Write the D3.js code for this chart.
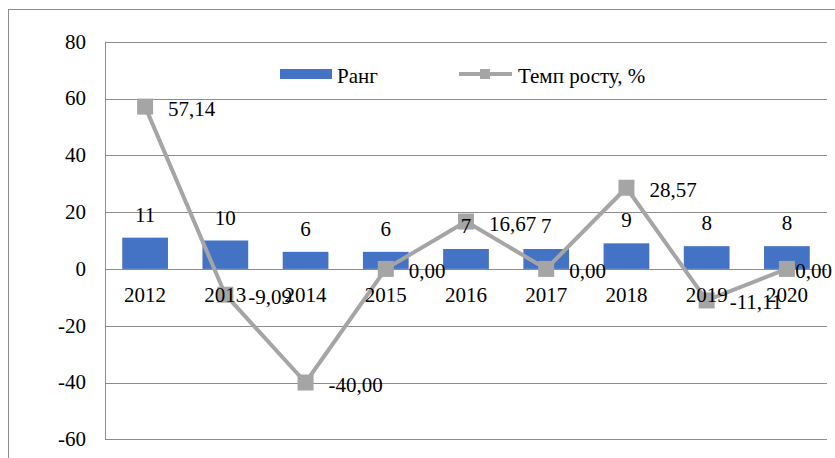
<!DOCTYPE html>
<html lang="uk">
<head>
  <meta charset="utf-8">
  <title>Ранг і темп росту</title>
  <script src="https://d3js.org/d3.v7.min.js"></script>
  <style>
    body { margin: 0; background: #fff; }
    svg text { font-family: "Liberation Serif", "Times New Roman", "DejaVu Serif", serif; font-size: 21px; fill: #000; }
  </style>
</head>
<body>
<script>
  var years = ["2012", "2013", "2014", "2015", "2016", "2017", "2018", "2019", "2020"];
  var rank = [11, 10, 6, 6, 7, 7, 9, 8, 8];
  var growth = [57.14, -9.09, -40.00, 0.00, 16.67, 0.00, 28.57, -11.11, 0.00];
  var yTicks = [-60, -40, -20, 0, 20, 40, 60, 80];

  var w = 835, h = 458;
  var svg = d3.select("body").append("svg").attr("width", w).attr("height", h)
    .attr("font-family", "Liberation Serif, Times New Roman, serif");

  // outer frame (cropped on right and bottom)
  svg.append("rect")
    .attr("x", 8.5).attr("y", 9.5).attr("width", 1000).attr("height", 1000)
    .attr("fill", "none").attr("stroke", "#8c8c8c").attr("stroke-width", 1);

  var x = d3.scaleBand().domain(years).range([105, 827]);
  var y = d3.scaleLinear().domain([-60, 80]).range([439.3, 41.7]);
  var barW = x.bandwidth() * 0.57;
  var cx = function(d) { return x(d) + x.bandwidth() / 2; };

  // gridlines
  svg.append("g").selectAll("line").data(yTicks).enter().append("line")
    .attr("x1", 105).attr("x2", 827)
    .attr("y1", function(d) { return Math.round(y(d)) + 0.5; })
    .attr("y2", function(d) { return Math.round(y(d)) + 0.5; })
    .attr("stroke", "#8c8c8c").attr("stroke-width", 1);
  svg.append("line")
    .attr("x1", 105.5).attr("x2", 105.5).attr("y1", y(80)).attr("y2", y(-60))
    .attr("stroke", "#8c8c8c");

  // y tick labels
  svg.append("g").selectAll("text").data(yTicks).enter().append("text")
    .attr("x", 86).attr("y", function(d) { return y(d); })
    .attr("dy", "0.33em").attr("text-anchor", "end")
    .text(function(d) { return d; });

  // bars
  svg.append("g").selectAll("rect").data(years).enter().append("rect")
    .attr("x", function(d) { return cx(d) - barW / 2; })
    .attr("width", barW)
    .attr("y", function(d, i) { return y(rank[i]); })
    .attr("height", function(d, i) { return y(0) - y(rank[i]); })
    .attr("fill", "#4472C4");

  // line
  var line = d3.line()
    .x(function(d, i) { return cx(years[i]); })
    .y(function(d) { return y(d); });
  svg.append("path").datum(growth)
    .attr("d", line).attr("fill", "none")
    .attr("stroke", "#A5A5A5").attr("stroke-width", 4).attr("stroke-linejoin", "round");

  var ms = 16;
  svg.append("g").selectAll("rect").data(growth).enter().append("rect")
    .attr("x", function(d, i) { return cx(years[i]) - ms / 2; })
    .attr("y", function(d) { return y(d) - ms / 2; })
    .attr("width", ms).attr("height", ms)
    .attr("fill", "#A5A5A5");

  // x labels
  svg.append("g").selectAll("text").data(years).enter().append("text")
    .attr("x", cx).attr("y", 302)
    .attr("text-anchor", "middle")
    .text(function(d) { return d; });

  // line labels, pushed back inside the right edge if they run over
  var fmt = function(v) { return v.toFixed(2).replace(".", ","); };
  svg.append("g").selectAll("text").data(growth).enter().append("text")
    .attr("x", function(d, i) { return cx(years[i]) + 23; })
    .attr("y", function(d) { return y(d) + 9; })
    .text(fmt)
    .each(function() {
      var t = d3.select(this);
      var end = +t.attr("x") + this.getComputedTextLength();
      if (end > 832) t.attr("x", +t.attr("x") - (end - 832));
    });

  // bar labels
  svg.append("g").selectAll("text").data(rank).enter().append("text")
    .attr("x", function(d, i) { return cx(years[i]); })
    .attr("y", function(d) { return y(d) - 16; })
    .attr("text-anchor", "middle")
    .text(function(d) { return d; });

  // legend
  var lg = svg.append("g");
  lg.append("rect").attr("x", 280).attr("y", 69).attr("width", 52).attr("height", 10).attr("fill", "#4472C4");
  lg.append("text").attr("x", 337).attr("y", 83).text("Ранг");
  lg.append("line").attr("x1", 459).attr("x2", 512).attr("y1", 74).attr("y2", 74)
    .attr("stroke", "#A5A5A5").attr("stroke-width", 4);
  lg.append("rect").attr("x", 480).attr("y", 69).attr("width", 10).attr("height", 10).attr("fill", "#A5A5A5");
  lg.append("text").attr("x", 518).attr("y", 83).text("Темп росту, %");
</script>
</body>
</html>
